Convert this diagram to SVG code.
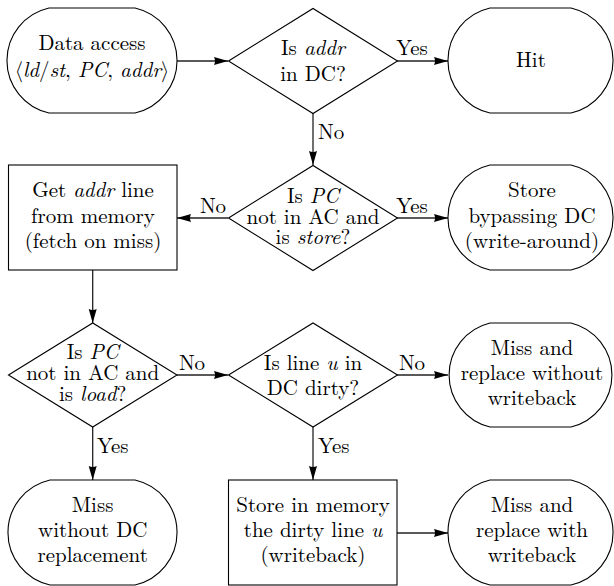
<svg xmlns="http://www.w3.org/2000/svg" width="614" height="586" viewBox="0 0 614 586" font-family="'Latin Modern Roman', 'Latin Modern Math', 'DejaVu Sans', serif">
<style>
.n{fill:#fff;stroke:#000;stroke-width:1.1}
.c{fill:none;stroke:#222;stroke-width:1.3}
text{font-size:21px;fill:#000;text-anchor:middle}
.l{text-anchor:start}
.i{font-style:italic}
</style>
<defs>
<marker id="a" markerUnits="userSpaceOnUse" markerWidth="15" markerHeight="9" refX="14" refY="4" orient="auto">
<path d="M0,0 L14,4 L0,8 Q2,4 0,0 z" fill="#000"/>
</marker>
</defs>
<rect width="614" height="586" fill="#fff"/>
<g id="connectors">
<line class="c" x1="177" y1="61" x2="228" y2="61" marker-end="url(#a)"/>
<line class="c" x1="397" y1="61" x2="448" y2="61" marker-end="url(#a)"/>
<text x="412" y="55">Yes</text>
<line class="c" x1="313" y1="113" x2="313" y2="165" marker-end="url(#a)"/>
<text class="l" x="318" y="139">No</text>
<line class="c" x1="228" y1="218" x2="177" y2="218" marker-end="url(#a)"/>
<text x="213" y="213">No</text>
<line class="c" x1="397" y1="218" x2="448" y2="218" marker-end="url(#a)"/>
<text x="412" y="213">Yes</text>
<line class="c" x1="92.7" y1="270" x2="92.7" y2="323" marker-end="url(#a)"/>
<line class="c" x1="177" y1="375" x2="228" y2="375" marker-end="url(#a)"/>
<text x="192" y="370">No</text>
<line class="c" x1="397" y1="375" x2="448" y2="375" marker-end="url(#a)"/>
<text x="412" y="370">No</text>
<line class="c" x1="92.7" y1="427" x2="92.7" y2="480" marker-end="url(#a)"/>
<text class="l" x="97" y="453">Yes</text>
<line class="c" x1="313" y1="427" x2="313" y2="480" marker-end="url(#a)"/>
<text class="l" x="318" y="453">Yes</text>
<line class="c" x1="397" y1="533" x2="448" y2="533" marker-end="url(#a)"/>
</g>
<g id="start">
<path class="n" d="M49 8 H135 A53.8 53.8 0 0 1 135 113 H49 A53.8 53.8 0 0 1 49 8 Z"/>
<text x="92" y="50">Data access</text>
<text x="92" y="77">⟨<tspan class="i">ld</tspan>/<tspan class="i">st</tspan>, <tspan class="i">PC</tspan>, <tspan class="i">addr</tspan>⟩</text>
</g>
<g id="q1">
<polygon class="n" points="228.5,61 313,8.5 397.5,61 313,113.5"/>
<text x="313" y="55">Is <tspan class="i">addr</tspan></text>
<text x="313" y="81">in DC?</text>
</g>
<g id="hit">
<path class="n" d="M490 8 H571 A53.8 53.8 0 0 1 571 113 H490 A53.8 53.8 0 0 1 490 8 Z"/>
<text x="531" y="67">Hit</text>
</g>
<g id="fetch">
<rect class="n" x="8.5" y="165" width="168.5" height="105"/>
<text x="93" y="197">Get <tspan class="i">addr</tspan> line</text>
<text x="93" y="223">from memory</text>
<text x="93" y="248">(fetch on miss)</text>
</g>
<g id="q2">
<polygon class="n" points="228.5,218 313,165.5 397.5,218 313,270.5"/>
<text x="313" y="203">Is <tspan class="i">PC</tspan></text>
<text x="313" y="223.5">not in AC and</text>
<text x="313" y="244">is <tspan class="i">store</tspan>?</text>
</g>
<g id="writearound">
<path class="n" d="M490 165 H571 A53.8 53.8 0 0 1 571 270 H490 A53.8 53.8 0 0 1 490 165 Z"/>
<text x="532" y="197">Store</text>
<text x="532" y="223">bypassing DC</text>
<text x="532" y="248">(write-around)</text>
</g>
<g id="q3">
<polygon class="n" points="8.5,375 92.7,323 177,375 92.7,427"/>
<text x="92.7" y="359">Is <tspan class="i">PC</tspan></text>
<text x="92.7" y="380">not in AC and</text>
<text x="92.7" y="401">is <tspan class="i">load</tspan>?</text>
</g>
<g id="q4">
<polygon class="n" points="228.5,375 313,323 397.5,375 313,427"/>
<text x="313" y="370">Is line <tspan class="i">u</tspan> in</text>
<text x="313" y="395">DC dirty?</text>
</g>
<g id="replace-nowb">
<path class="n" d="M490 323 H571 A53.5 53.5 0 0 1 571 427 H490 A53.5 53.5 0 0 1 490 323 Z"/>
<text x="532" y="355">Miss and</text>
<text x="532" y="380">replace without</text>
<text x="532" y="405">writeback</text>
</g>
<g id="miss-norepl">
<path class="n" d="M50 480 H135 A53.8 53.8 0 0 1 135 585 H50 A53.8 53.8 0 0 1 50 480 Z"/>
<text x="92.7" y="512">Miss</text>
<text x="92.7" y="537">without DC</text>
<text x="92.7" y="562">replacement</text>
</g>
<g id="writeback">
<rect class="n" x="228.5" y="480" width="168.5" height="105"/>
<text x="313" y="512">Store in memory</text>
<text x="313" y="537">the dirty line <tspan class="i">u</tspan></text>
<text x="313" y="562">(writeback)</text>
</g>
<g id="replace-wb">
<path class="n" d="M490 480 H571 A53.8 53.8 0 0 1 571 585 H490 A53.8 53.8 0 0 1 490 480 Z"/>
<text x="532" y="512">Miss and</text>
<text x="532" y="537">replace with</text>
<text x="532" y="562">writeback</text>
</g>
</svg>
